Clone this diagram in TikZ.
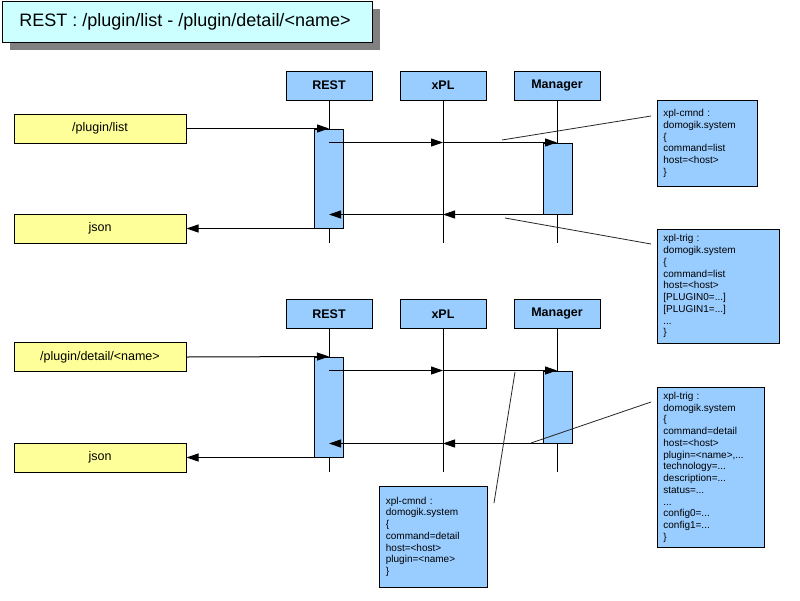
\documentclass[tikz,border=0pt]{standalone}
\usepackage{fontspec}
\setmainfont{Liberation Sans}
\usetikzlibrary{arrows.meta}
\definecolor{lblue}{HTML}{99CCFF}
\definecolor{lyellow}{HTML}{FFFF99}
\definecolor{lcyan}{HTML}{CCFFFF}
\definecolor{shgray}{HTML}{808080}
\begin{document}
\begin{tikzpicture}[x=1pt,y=-1pt,
  titlebox/.style={draw, fill=lcyan, line width=1pt, minimum width=370pt, minimum height=41pt, inner sep=0pt, font=\fontsize{18}{20}\selectfont},
  hdr/.style={draw, fill=lblue, line width=1pt, minimum width=86pt, minimum height=29pt, inner sep=0pt, font=\fontsize{12.5}{14}\selectfont\bfseries},
  act/.style={draw, fill=lblue, line width=1pt, minimum width=29pt, inner sep=0pt},
  inbox/.style={draw, fill=lyellow, line width=1pt, minimum width=172pt, minimum height=29pt, inner sep=0pt, font=\fontsize{12.5}{14}\selectfont},
  note/.style={draw, fill=lblue, line width=0.8pt, inner xsep=6pt, inner ysep=0pt, align=left, anchor=north west, font=\fontsize{10}{11.75}\selectfont},
  msg/.style={line width=1pt, -{Triangle[length=12pt,width=8pt]}},
  life/.style={line width=1pt},
  lead/.style={line width=0.8pt, draw=black!85}
]
\fill[white] (0,0) rectangle (800,600);
\useasboundingbox (0,0) rectangle (800,600);

% title
\fill[shgray] (10,9) rectangle (380,50);
\node[titlebox, anchor=north west] (title) at (2,1) {\hspace*{-5pt}REST : /plugin/list - /plugin/detail/<name>};

% ===== top section =====
\coordinate (end1) at (0,243);
\node[hdr] (rest1) at (329,85.5) {REST};
\node[hdr] (xpl1) at (443,85.5) {xPL};
\node[hdr] (mgr1) at (557,85.5) {Manager};
\draw[life] (rest1.south) -- (rest1.south |- end1);
\draw[life] (xpl1.south) -- (xpl1.south |- end1);
\draw[life] (mgr1.south) -- (mgr1.south |- end1);
\node[act, minimum height=99pt] (actR1) at (329,178.5) {};
\node[act, minimum height=71pt] (actM1) at (557.5,178.5) {};
\node[inbox] (in1) at (100,128.5) {/plugin/list};
\node[inbox] (out1) at (100,228.5) {json};

\draw[msg] (in1.east) -- (actR1.north);
\draw[msg] (actR1.north |- actM1.north) -- (xpl1.south |- actM1.north);
\draw[msg] (xpl1.south |- actM1.north) -- (mgr1.south |- actM1.north);
\draw[msg] (actM1.south west) -- (xpl1.south |- actM1.south);
\draw[msg] (xpl1.south |- actM1.south) -- (actR1.north |- actM1.south);
\draw[msg] (actR1.south west) -- (out1.east |- actR1.south west);

\node[note, text width=88pt, minimum height=86pt] (note1) at (657,100)
  {xpl-cmnd :\\domogik.system\\\{\\command=list\\host=<host>\\\}};
\node[note, text width=110pt, minimum height=114pt] (note2) at (657,229)
  {xpl-trig :\\domogik.system\\\{\\command=list\\host=<host>\\{}[PLUGIN0=...]\\{}[PLUGIN1=...]\\...\\\}};
\coordinate (l1a) at (502,140);
\coordinate (l1b) at (651,116);
\coordinate (l2a) at (505,218);
\coordinate (l2b) at (651,244);
\draw[lead] (l1a) -- (l1b);
\draw[lead] (l2a) -- (l2b);

% ===== bottom section =====
\coordinate (end2) at (0,472);
\node[hdr] (rest2) at (329,314) {REST};
\node[hdr] (xpl2) at (443,314) {xPL};
\node[hdr] (mgr2) at (557,314) {Manager};
\draw[life] (rest2.south) -- (rest2.south |- end2);
\draw[life] (xpl2.south) -- (xpl2.south |- end2);
\draw[life] (mgr2.south) -- (mgr2.south |- end2);
\node[act, minimum height=100pt] (actR2) at (329,407) {};
\node[act, minimum height=72pt] (actM2) at (557.5,407) {};
\node[inbox] (in2) at (100,357) {/plugin/detail/<name>};
\node[inbox] (out2) at (100,457.5) {json};

\draw[msg] (in2.east) -- (actR2.north);
\draw[msg] (actR2.north |- actM2.north) -- (xpl2.south |- actM2.north);
\draw[msg] (xpl2.south |- actM2.north) -- (mgr2.south |- actM2.north);
\draw[msg] (actM2.south west) -- (xpl2.south |- actM2.south);
\draw[msg] (xpl2.south |- actM2.south) -- (actR2.north |- actM2.south);
\draw[msg] (actR2.south west) -- (out2.east |- actR2.south west);

\node[note, text width=95pt, minimum height=160pt] (note4) at (657,387)
  {xpl-trig :\\domogik.system\\\{\\command=detail\\host=<host>\\plugin=<name>,...\\technology=...\\description=...\\status=...\\...\\config0=...\\config1=...\\\}};
\node[note, text width=95pt, inner xsep=6.5pt, minimum height=101pt] (note3) at (379,486)
  {xpl-cmnd :\\domogik.system\\\{\\command=detail\\host=<host>\\plugin=<name>\\\}};
\coordinate (l3a) at (515,372);
\coordinate (l3b) at (494,503);
\coordinate (l4a) at (531,443);
\coordinate (l4b) at (651,402);
\draw[lead] (l3a) -- (l3b);
\draw[lead] (l4a) -- (l4b);
\end{tikzpicture}
\end{document}
